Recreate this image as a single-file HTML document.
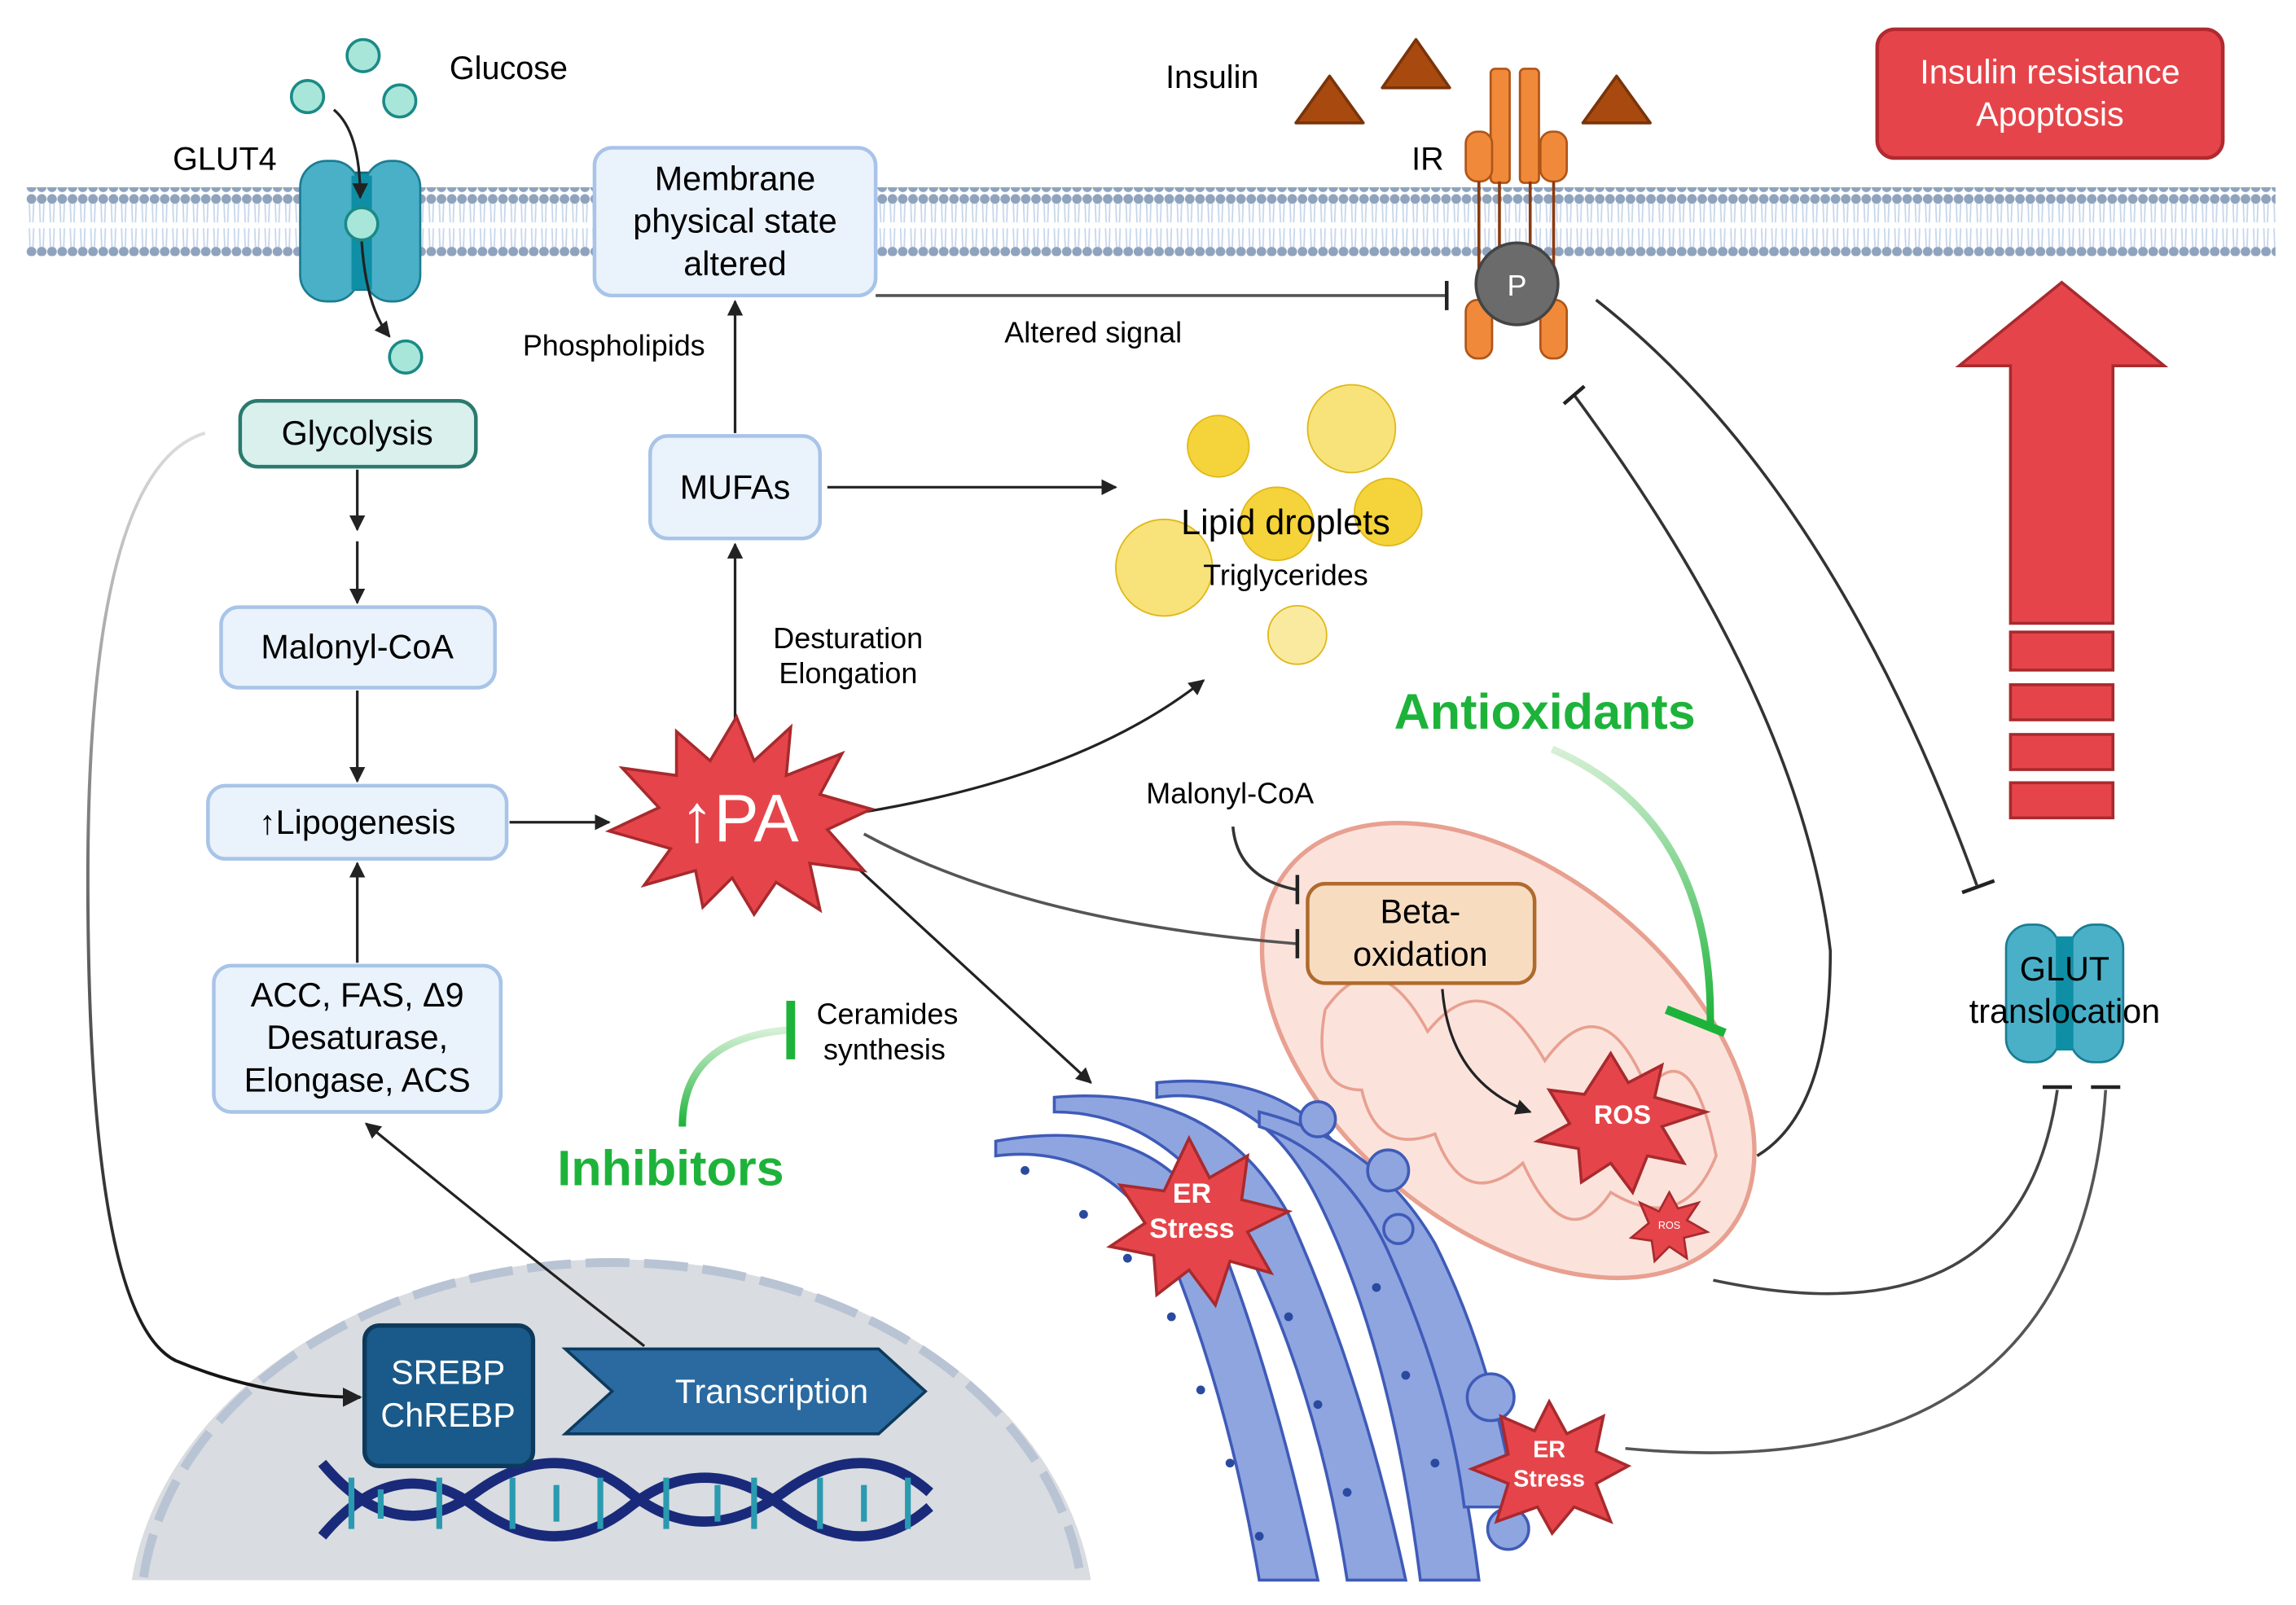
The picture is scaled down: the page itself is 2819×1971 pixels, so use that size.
<!DOCTYPE html>
<html><head><meta charset="utf-8"><style>
html,body{margin:0;padding:0;background:#fff}
svg{display:block}
text{font-family:"Liberation Sans",sans-serif}
</style></head><body>
<svg width="2819" height="1971" viewBox="0 0 1568 1097" preserveAspectRatio="none" xmlns="http://www.w3.org/2000/svg">
<defs>
<marker id="ar" viewBox="0 0 10 10" refX="9" refY="5" markerWidth="6" markerHeight="6" orient="auto-start-reverse"><path d="M0,0L10,5L0,10z" fill="#222"/></marker>
<pattern id="lip" x="18" y="0" width="7" height="44" patternUnits="userSpaceOnUse">
<circle cx="3.5" cy="4" r="3.3" fill="#8fa3bd"/><circle cx="3.5" cy="40" r="3.3" fill="#8fa3bd"/>
<path d="M2,7L2.5,20M5,7L4.5,20M2,24L2.5,37M5,24L4.5,37" stroke="#c6d6ec" stroke-width="1"/>
</pattern>
<linearGradient id="fadeL" x1="0" y1="0" x2="0" y2="1"><stop offset="0" stop-color="#ddd"/><stop offset="0.5" stop-color="#666"/><stop offset="1" stop-color="#111"/></linearGradient>
<linearGradient id="fadeG" x1="0" y1="0" x2="0" y2="1"><stop offset="0" stop-color="#d6f0d6"/><stop offset="1" stop-color="#1db33a"/></linearGradient>
</defs>
<rect x="18" y="128" width="1536" height="47" fill="url(#lip)"/>
<path d="M90,1080 A330,250 0 0 1 745,1080 Z" fill="#d9dce0"/>
<path d="M98,1078 A322,242 0 0 1 738,1078" fill="none" stroke="#b8c3d4" stroke-width="6" stroke-dasharray="30,10"/>
<g fill="#a8e6da" stroke="#1a8a86" stroke-width="2">
<circle cx="248" cy="38" r="11"/><circle cx="210" cy="66" r="11"/><circle cx="273" cy="69" r="11"/><circle cx="277" cy="244" r="11"/>
</g>
<text x="307" y="54" font-size="22">Glucose</text>
<text x="118" y="116" font-size="22">GLUT4</text>
<rect x="235" y="118" width="24" height="80" fill="#0f8fa5" stroke="#0c6b80" stroke-width="1.5"/>
<rect x="205" y="110" width="40" height="96" rx="18" fill="#4ab0c8" stroke="#1b7d92" stroke-width="1.5"/>
<rect x="249" y="110" width="38" height="96" rx="18" fill="#4ab0c8" stroke="#1b7d92" stroke-width="1.5"/>
<rect x="240" y="120" width="14" height="78" fill="#0f8fa5"/>
<circle cx="247" cy="153" r="11" fill="#a8e6da" stroke="#1a8a86" stroke-width="2"/>
<path d="M228,75 Q246,90 246,135" fill="none" stroke="#222" stroke-width="1.8" marker-end="url(#ar)"/>
<path d="M247,165 Q250,210 266,230" fill="none" stroke="#222" stroke-width="1.8" marker-end="url(#ar)"/>
<rect x="406" y="101" width="192" height="101" rx="12" fill="#eaf2fb" stroke="#a8c4e8" stroke-width="2.5"/>
<text font-size="23" text-anchor="middle"><tspan x="502" y="130">Membrane</tspan><tspan x="502" y="159">physical state</tspan><tspan x="502" y="188">altered</tspan></text>
<text x="796" y="60" font-size="22">Insulin</text>
<g fill="#a84a0f" stroke="#7a340a" stroke-width="2" stroke-linejoin="round">
<path d="M885,84L908,52L931,84Z"/><path d="M944,60L967,27L990,60Z"/><path d="M1081,84L1104,52L1127,84Z"/>
</g>
<text x="964" y="116" font-size="22">IR</text>
<g fill="#f08a3a" stroke="#b05518" stroke-width="1.5">
<rect x="1018" y="47" width="13" height="78" rx="3"/><rect x="1038" y="47" width="13" height="78" rx="3"/>
<rect x="1001" y="90" width="18" height="34" rx="8"/><rect x="1052" y="90" width="18" height="34" rx="8"/>
<rect x="1001" y="205" width="18" height="40" rx="8"/><rect x="1052" y="205" width="18" height="40" rx="8"/>
</g>
<path d="M1010,124L1010,205M1061,124L1061,205M1024,124L1024,170M1045,124L1045,170" stroke="#8a3a10" stroke-width="2"/>
<circle cx="1036" cy="194" r="28" fill="#6b6b6b" stroke="#444" stroke-width="2"/>
<text x="1036" y="202" font-size="20" fill="#fff" text-anchor="middle">P</text>
<rect x="1282" y="20" width="236" height="88" rx="12" fill="#e5454a" stroke="#b02a30" stroke-width="2.5"/>
<text font-size="23" fill="#fff" text-anchor="middle"><tspan x="1400" y="57">Insulin resistance</tspan><tspan x="1400" y="86">Apoptosis</tspan></text>
<g fill="#e5454a" stroke="#a82a2e" stroke-width="2">
<path d="M1373,426L1373,250L1338,250L1408,193L1478,250L1443,250L1443,426Z"/>
<rect x="1373" y="432" width="70" height="26"/><rect x="1373" y="468" width="70" height="24"/><rect x="1373" y="502" width="70" height="24"/><rect x="1373" y="535" width="70" height="24"/>
</g>
<path d="M598,202L988,202" stroke="#555" stroke-width="2"/><path d="M988,192L988,212" stroke="#222" stroke-width="2.5"/>
<text x="686" y="234" font-size="20">Altered signal</text>
<text x="357" y="243" font-size="20">Phospholipids</text>
<rect x="164" y="274" width="161" height="45" rx="12" fill="#d9f0ec" stroke="#2a7a6e" stroke-width="2.5"/>
<text x="244" y="304" font-size="23" text-anchor="middle">Glycolysis</text>
<rect x="151" y="415" width="187" height="55" rx="12" fill="#eaf2fb" stroke="#a8c4e8" stroke-width="2.5"/>
<text x="244" y="450" font-size="23" text-anchor="middle">Malonyl-CoA</text>
<rect x="142" y="537" width="204" height="50" rx="12" fill="#eaf2fb" stroke="#a8c4e8" stroke-width="2.5"/>
<text x="244" y="570" font-size="23" text-anchor="middle">↑Lipogenesis</text>
<rect x="146" y="660" width="196" height="100" rx="12" fill="#eaf2fb" stroke="#a8c4e8" stroke-width="2.5"/>
<text font-size="23" text-anchor="middle"><tspan x="244" y="688">ACC, FAS, Δ9</tspan><tspan x="244" y="717">Desaturase,</tspan><tspan x="244" y="746">Elongase, ACS</tspan></text>
<rect x="444" y="298" width="116" height="70" rx="12" fill="#eaf2fb" stroke="#a8c4e8" stroke-width="2.5"/>
<text x="502" y="341" font-size="23" text-anchor="middle">MUFAs</text>
<g stroke="#222" stroke-width="1.8" fill="none" marker-end="url(#ar)">
<path d="M244,321L244,362"/><path d="M244,370L244,412"/><path d="M244,472L244,534"/><path d="M244,658L244,590"/>
<path d="M348,562L416,562"/><path d="M502,492L502,372"/><path d="M502,296L502,206"/><path d="M565,333L762,333"/>
<path d="M590,555Q740,530 822,465"/><path d="M582,590L745,740"/>
<path d="M440,920Q350,850 250,768"/>
</g>
<path d="M140,296Q60,320 60,600Q60,900 120,930Q180,955 246,955" stroke="url(#fadeL)" stroke-width="2.2" fill="none" marker-end="url(#ar)"/>
<text font-size="20"><tspan x="528" y="443">Desturation</tspan><tspan x="532" y="467">Elongation</tspan></text>
<path d="M503,490L515,520L540,497L537,530L575,515L560,543L595,553L565,567L590,595L553,590L560,622L530,603L515,625L500,600L480,620L475,595L440,605L458,580L416,568L450,552L425,525L462,530L462,500L485,520Z" fill="#e5454a" stroke="#a82a2e" stroke-width="2"/>
<text x="505" y="575" font-size="46" fill="#fff" text-anchor="middle">↑PA</text>
<g fill="#f5d33a" stroke="#e0b818" stroke-width="1">
<circle cx="832" cy="305" r="21"/><circle cx="923" cy="293" r="30" fill="#f8e27a"/><circle cx="948" cy="350" r="23"/><circle cx="872" cy="358" r="25"/>
<circle cx="795" cy="388" r="33" fill="#f8e27a"/><circle cx="886" cy="434" r="20" fill="#faeaa0"/>
</g>
<text x="878" y="365" font-size="24" text-anchor="middle">Lipid droplets</text>
<text x="878" y="400" font-size="20" text-anchor="middle">Triglycerides</text>
<!-- Mitochondrion -->
<ellipse cx="1030" cy="718" rx="195" ry="120" transform="rotate(40 1030 718)" fill="#fbe3dc" stroke="#e8a090" stroke-width="3"/>
<path d="M905,690Q940,640 975,705Q1015,655 1055,725Q1095,670 1125,745Q1155,705 1172,790Q1150,845 1100,815Q1070,860 1040,795Q1000,830 980,775Q940,790 930,745Q895,745 905,690" fill="none" stroke="#e8a090" stroke-width="2"/>
<rect x="893" y="604" width="155" height="68" rx="12" fill="#f7dcc0" stroke="#b06a2c" stroke-width="2.5"/>
<text font-size="23" text-anchor="middle"><tspan x="970" y="631">Beta-</tspan><tspan x="970" y="660">oxidation</tspan></text>
<text x="840" y="549" font-size="20" text-anchor="middle">Malonyl-CoA</text>
<path d="M842,565Q845,600 885,608" stroke="#333" stroke-width="2" fill="none"/><path d="M886,598L886,618" stroke="#222" stroke-width="2.5"/>
<path d="M590,570Q700,630 885,645" stroke="#555" stroke-width="2" fill="none"/><path d="M886,635L886,655" stroke="#222" stroke-width="2.5"/>
<path d="M985,676Q990,740 1045,760" stroke="#222" stroke-width="1.8" fill="none" marker-end="url(#ar)"/>
<path d="M1100,720L1112,740L1135,728L1130,750L1165,760L1135,770L1150,795L1125,790L1115,815L1100,795L1080,808L1078,785L1050,780L1072,768L1058,745L1082,748Z" fill="#e5454a" stroke="#a82a2e" stroke-width="2"/>
<text x="1108" y="768" font-size="18" font-weight="bold" fill="#fff" text-anchor="middle">ROS</text>
<path d="M1140,815L1146,826L1160,822L1152,834L1166,842L1150,846L1152,860L1140,852L1130,862L1128,848L1114,846L1126,836L1120,822L1133,828Z" fill="#e5454a" stroke="#a82a2e" stroke-width="1.5"/>
<text x="1140" y="840" font-size="7" fill="#fff" text-anchor="middle">ROS</text>
<text x="1055" y="498" font-size="34" font-weight="bold" fill="#1db33a" text-anchor="middle">Antioxidants</text>
<path d="M1060,512Q1170,560 1168,700" stroke="url(#fadeG)" stroke-width="5" fill="none"/>
<path d="M1138,690L1178,706" stroke="#1db33a" stroke-width="6"/>
<text x="458" y="810" font-size="34" font-weight="bold" fill="#1db33a" text-anchor="middle">Inhibitors</text>
<path d="M466,770Q466,710 538,704" stroke="url(#fadeG)" stroke-width="5" fill="none"/>
<path d="M540,684L540,724" stroke="#1db33a" stroke-width="6"/>
<text font-size="20" text-anchor="middle"><tspan x="606" y="700">Ceramides</tspan><tspan x="604" y="724">synthesis</tspan></text>
<g fill="#8fa5e0" stroke="#3f5bb8" stroke-width="2">
<path d="M680,790Q760,780 800,860Q840,960 860,1080L900,1080Q870,940 830,840Q790,760 680,780Z"/>
<path d="M720,760Q800,760 850,850Q900,950 920,1080L960,1080Q930,940 880,830Q830,740 720,750Z"/>
<path d="M790,750Q860,740 900,820Q950,920 970,1080L1010,1080Q990,920 930,810Q890,730 790,740Z"/>
<path d="M860,770Q920,790 950,860Q990,950 1000,1030L1035,1030Q1020,930 980,850Q940,780 860,760Z"/>
<circle cx="900" cy="765" r="12"/><circle cx="948" cy="800" r="14"/><circle cx="955" cy="840" r="10"/><circle cx="1018" cy="955" r="16"/><circle cx="1030" cy="1045" r="14"/>
</g>
<g fill="#2a4aa0">
<circle cx="700" cy="800" r="3"/><circle cx="740" cy="830" r="3"/><circle cx="770" cy="860" r="3"/><circle cx="800" cy="900" r="3"/><circle cx="820" cy="950" r="3"/><circle cx="840" cy="1000" r="3"/><circle cx="860" cy="1050" r="3"/>
<circle cx="880" cy="900" r="3"/><circle cx="900" cy="960" r="3"/><circle cx="920" cy="1020" r="3"/><circle cx="940" cy="880" r="3"/><circle cx="960" cy="940" r="3"/><circle cx="980" cy="1000" r="3"/>
</g>
<path d="M812,778L826,805L852,790L848,820L880,828L852,842L868,870L840,862L830,892L812,868L790,885L788,858L758,852L782,836L765,810L795,814Z" fill="#e5454a" stroke="#a82a2e" stroke-width="2"/>
<text font-size="19" font-weight="bold" fill="#fff" text-anchor="middle"><tspan x="814" y="822">ER</tspan><tspan x="814" y="846">Stress</tspan></text>
<path d="M1058,958L1070,980L1095,968L1090,992L1112,1002L1090,1014L1100,1040L1075,1030L1060,1048L1050,1030L1022,1040L1030,1014L1005,1004L1030,994L1025,968L1048,978Z" fill="#e5454a" stroke="#a82a2e" stroke-width="2"/>
<text font-size="16" font-weight="bold" fill="#fff" text-anchor="middle"><tspan x="1058" y="996">ER</tspan><tspan x="1058" y="1016">Stress</tspan></text>
<rect x="1400" y="642" width="20" height="76" fill="#0f8fa5"/>
<rect x="1370" y="632" width="36" height="94" rx="16" fill="#4ab0c8" stroke="#1b7d92" stroke-width="1.5"/>
<rect x="1414" y="632" width="36" height="94" rx="16" fill="#4ab0c8" stroke="#1b7d92" stroke-width="1.5"/>
<rect x="1404" y="640" width="12" height="78" fill="#0f8fa5"/>
<text font-size="23" text-anchor="middle"><tspan x="1410" y="670">GLUT</tspan><tspan x="1410" y="699">translocation</tspan></text>
<path d="M1090,205Q1250,330 1350,605" stroke="#333" stroke-width="2" fill="none"/><path d="M1340,610L1362,602" stroke="#222" stroke-width="2.5"/>
<path d="M1200,790Q1250,760 1250,650Q1230,480 1075,270" stroke="#333" stroke-width="2" fill="none"/><path d="M1068,276L1082,264" stroke="#222" stroke-width="2.5"/>
<path d="M1170,875Q1380,920 1405,745" stroke="#444" stroke-width="2" fill="none"/><path d="M1395,743L1415,743" stroke="#222" stroke-width="2.5"/>
<path d="M1110,990Q1420,1020 1438,745" stroke="#555" stroke-width="2" fill="none"/><path d="M1428,743L1448,743" stroke="#222" stroke-width="2.5"/>
<path d="M386,922L600,922L632,951L600,980L386,980L418,951Z" fill="#2a6aa0" stroke="#0d3a5c" stroke-width="2"/>
<text x="527" y="959" font-size="23" fill="#fff" text-anchor="middle">Transcription</text>
<g fill="none" stroke-width="7">
<path d="M220,1000Q270,1060 325,1020T430,1020T535,1020T635,1020" stroke="#1a2a7a"/>
<path d="M220,1050Q270,990 325,1030T430,1030T535,1030T635,1030" stroke="#1a2a7a"/>
</g>
<g stroke="#2a9ab0" stroke-width="4">
<path d="M240,1010V1045M260,1018V1038M300,1010V1045M350,1010V1045M380,1015V1040M410,1010V1045M455,1010V1045M490,1015V1040M515,1010V1045M560,1010V1045M590,1015V1040M620,1010V1045"/>
</g>
<rect x="249" y="906" width="115" height="96" rx="10" fill="#1a5a8a" stroke="#0d3a5c" stroke-width="3"/>
<text font-size="23" fill="#fff" text-anchor="middle"><tspan x="306" y="946">SREBP</tspan><tspan x="306" y="975">ChREBP</tspan></text>
</svg>
</body></html>
